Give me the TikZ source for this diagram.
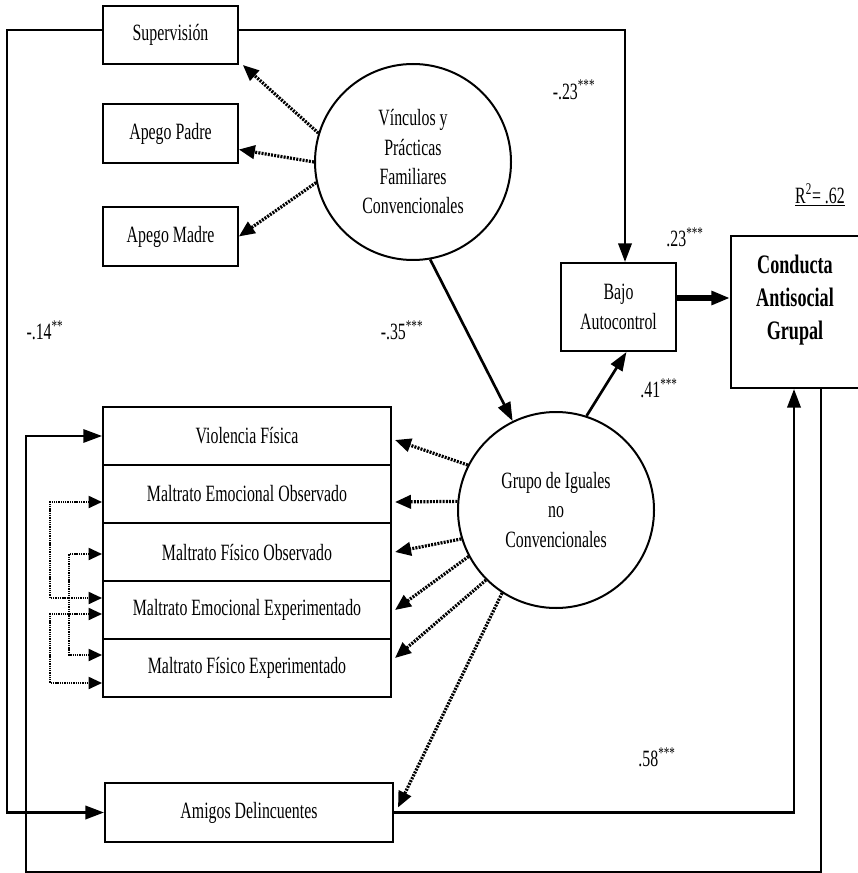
\documentclass[tikz,border=0pt]{standalone}
\usepackage{fontspec}
\setmainfont[FakeStretch=0.68]{Liberation Serif}
\usetikzlibrary{arrows.meta,calc}

\begin{document}
\begin{tikzpicture}[x=0.75pt,y=-0.75pt,
  box/.style={draw,line width=1.5pt,inner sep=0pt,align=center,font=\fontsize{17.5}{22}\selectfont},
  latent/.style={draw,circle,line width=1.5pt,minimum size=147pt,inner sep=0pt,align=center,font=\fontsize{17.5}{22}\selectfont},
  coef/.style={font=\fontsize{17.5}{20}\selectfont},
  effect/.style={line width=2pt,-{Triangle[length=14pt,width=10pt]}},
  loading/.style={line width=2.4pt,dash pattern=on 1.5pt off 0.9pt,-{Triangle[length=12pt,width=10pt]}},
  corr/.style={line width=1.4pt,dash pattern=on 1pt off 0.7pt,{Triangle[length=10pt,width=9pt]}-{Triangle[length=10pt,width=9pt]}}]
  \useasboundingbox (0,0) rectangle (857,873);
  % familia
  \node[box,minimum width=101pt,minimum height=43.5pt] (sup) at (170.5,35) {Supervisión};
  \node[box,minimum width=101pt,minimum height=44pt] (padre) at (170.5,133.5) {Apego Padre};
  \node[box,minimum width=101pt,minimum height=44pt] (madre) at (170.5,236.5) {Apego Madre};
  \node[latent] (vinc) at (413,162) {Vínculos y\\Prácticas\\Familiares\\Convencionales};
  % violencia
  \foreach \n/\y/\t in {vf/436/Violencia Física, meo/494/Maltrato Emocional Observado,
    mfo/552/Maltrato Físico Observado, mee/610/Maltrato Emocional Experimentado,
    mfe/668/Maltrato Físico Experimentado}
  {
  \node[box,minimum width=216pt,minimum height=43.5pt] (\n) at (247,\y) {\t};
  }
  \node[box,minimum width=216pt,minimum height=44pt] (amigos) at (249,812.5) {Amigos Delincuentes};
  \node[latent] (grupo) at (556,510) {Grupo de Iguales\\no\\Convencionales};
  \node[box,minimum width=86pt,minimum height=66pt] (bajo) at (618.5,307) {Bajo\\Autocontrol};
  \node[box,minimum width=99pt,minimum height=114pt] (conducta) at (797,312) {};
  \node[align=center,font=\fontsize{20}{24.5}\selectfont\bfseries] (conductatxt) at (795,300) {Conducta\\Antisocial\\Grupal};
  \node[coef] (rsq) at (820,195) {\underline{R\textsuperscript{2}= .62}};
  % cargas
  \draw[loading] (vinc.163) -- ([xshift=3pt]sup.south east);
  \draw[loading] (vinc.180) -- ([yshift=-12pt]padre.east);
  \draw[loading] (vinc.192) -- (madre.east);
  \foreach \n/\a/\d in {vf/153/4, meo/175/8, mfo/197/0, mee/208/0, mfe/225/-10}
  {
  \draw[loading] (grupo.\a) -- ($(\n.east)+(3,\d)$);
  }
  \draw[loading] (grupo.237) -- ($(amigos.east)+(4,-5)$);
  % correlaciones
  \foreach \a/\b/\w/\ya/\yb in {meo/mee/52/8/-12, mfo/mfe/33/2/-13, mee/mfe/52/4/15}
  {
  \draw[corr] ($(\a.west)+(0,\ya)$) -- ++(-\w,0) |- ($(\b.west)+(0,\yb)$);
  }
  % efectos
  \coordinate (lo) at (7,400);
  \coordinate (ro) at (821,872);
  \coordinate (bo) at (26,872);
  \coordinate (bc) at ($(bajo.east)+(0,-9)$);
  \draw[effect] ($(sup.east)+(0,-5)$) -| ($(bajo.north)+(6.5,0)$);
  \draw[effect] ($(sup.west)+(0,-5)$) -| (lo) |- (amigos.west);
  \draw[effect] (vinc.280) -- (grupo.116);
  \draw[effect] (grupo.72) -- (bajo.-80);
  \draw[effect,line width=4pt] (bc) -- (bc -| conducta.west);
  \draw[effect] (amigos.east) -| ($(conducta.south)+(-3,0)$);
  \draw[effect,line width=1.5pt] ($(conducta.south -| ro)$) -- (ro) -- (bo) |- (vf.west);
  \node[coef] (k1) at (574,90) {-.23\textsuperscript{***}};
  \node[coef] (k2) at (685,237) {.23\textsuperscript{***}};
  \node[coef] (k3) at (402,330) {-.35\textsuperscript{***}};
  \node[coef] (k4) at (659,388) {.41\textsuperscript{***}};
  \node[coef] (k5) at (45,330) {-.14\textsuperscript{**}};
  \node[coef] (k6) at (657,757) {.58\textsuperscript{***}};
\end{tikzpicture}
\end{document}
